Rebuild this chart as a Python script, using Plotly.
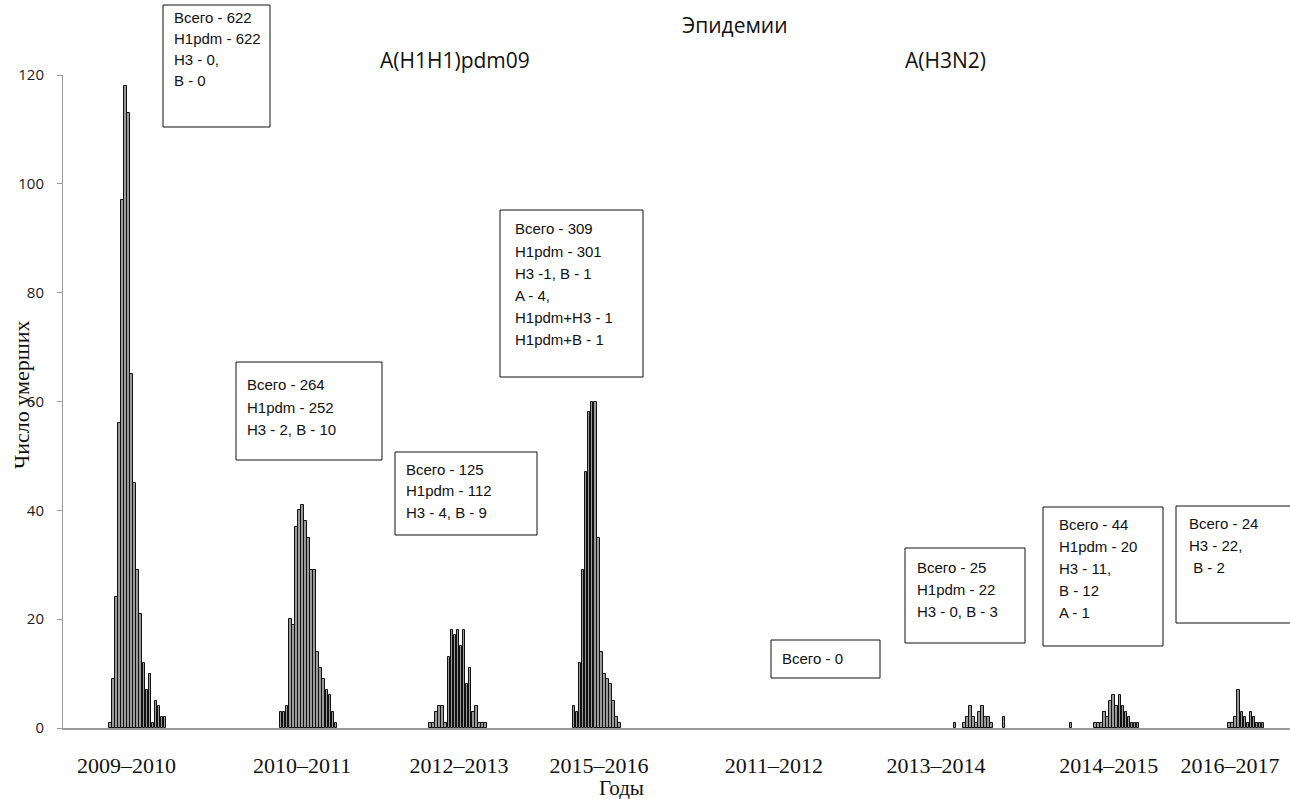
import plotly.graph_objects as go

# Influenza seasons shown on the time axis (label, centre position in weeks)
season_labels = ["2009–2010", "2010–2011", "2012–2013", "2015–2016",
                 "2011–2012", "2013–2014", "2014–2015", "2016–2017"]
season_label_pos = [20.8, 78.4, 129.8, 175.7, 233.1, 286.2, 342.9, 382.6]

# Weekly numbers of deaths per season (week offset where the series starts)
season_start_week = [15, 71, 120, 167, None, 292, 330, 382]
weekly_deaths = [
    [1, 9, 24, 56, 97, 118, 113, 65, 45, 29, 21, 12, 7, 10, 1, 5, 4, 2, 2],
    [3, 3, 4, 20, 19, 37, 40, 41, 38, 35, 29, 29, 14, 11, 9, 7, 6, 3, 1],
    [1, 1, 3, 4, 4, 1, 13, 18, 17, 18, 15, 18, 8, 11, 3, 4, 1, 1, 1],
    [4, 3, 12, 29, 47, 58, 60, 60, 35, 14, 10, 9, 8, 5, 2, 1],
    [],
    [1, 0, 0, 1, 2, 4, 2, 1, 3, 4, 2, 2, 1, 0, 0, 0, 2],
    [1, 0, 0, 0, 0, 0, 0, 0, 1, 1, 1, 3, 2, 5, 6, 4, 6, 4, 3, 2, 1, 1, 1],
    [1, 1, 2, 7, 3, 2, 1, 3, 2, 1, 1, 1],
]

# Laboratory summary for each season
season_notes = [
    ["Всего - 622", "H1pdm - 622", "H3 - 0,", "B - 0"],
    ["Всего - 264", "H1pdm - 252", "H3 - 2, B - 10"],
    ["Всего - 125", "H1pdm - 112", "H3 - 4, B - 9"],
    ["Всего - 309", "H1pdm - 301", "H3 -1, B - 1", "A - 4,", "H1pdm+H3 - 1", "H1pdm+B - 1"],
    ["Всего - 0"],
    ["Всего - 25", "H1pdm - 22", "H3 - 0, B - 3"],
    ["Всего - 44", "H1pdm - 20", "H3 - 11,", "B - 12", "A - 1"],
    ["Всего - 24", "H3 - 22,", " B - 2"],
]

# Figure geometry (pixels)
W, H = 1290, 799
ML, MR, MT, MB = 63, 0, 75, 71
PW, PH = W - ML - MR, H - MT - MB
PX_PER_WEEK = 3.05

SANS = "Liberation Sans, Arial, sans-serif"
HEAD = "Open Sans, Liberation Sans, sans-serif"
SERIF = "Liberation Serif, Times New Roman, serif"

xs, ys = [], []
for start, vals in zip(season_start_week, weekly_deaths):
    if start is None:
        continue
    for i, v in enumerate(vals):
        if v > 0:
            xs.append(start + i + 0.5)
            ys.append(v)

fig = go.Figure(go.Bar(
    x=xs, y=ys, width=0.85,
    marker=dict(color="#9a9a9a", line=dict(color="#111111", width=1)),
    hoverinfo="x+y",
))


def px_to_paper_x(px):
    return (px - ML) / PW


def px_to_paper_y(py):
    return (H - MB - py) / PH


# Note boxes: (left, top, right, bottom, text-left, first-line centre, line step) in pixels
box_geom = [
    (163, 5, 270, 127, 172, 17, 21),
    (236, 362, 382, 460, 245, 384, 23),
    (395, 452, 537, 535, 404, 469, 21.5),
    (500, 210, 643, 377, 513, 229, 22),
    (771, 640, 880, 678, 780, 658, 22),
    (905, 548, 1025, 643, 915, 567, 22),
    (1043, 507, 1163, 646, 1057, 524, 22),
    (1176, 506, 1300, 623, 1187, 523, 22),
]

shapes, annotations = [], []
for notes, (l, t, r, b, tx, ty, step) in zip(season_notes, box_geom):
    shapes.append(dict(
        type="rect", xref="paper", yref="paper",
        x0=px_to_paper_x(l), x1=px_to_paper_x(r),
        y0=px_to_paper_y(b), y1=px_to_paper_y(t),
        line=dict(color="#111111", width=1), fillcolor="white", layer="above",
    ))
    for k, line in enumerate(notes):
        annotations.append(dict(
            xref="paper", yref="paper",
            x=px_to_paper_x(tx), y=px_to_paper_y(ty + k * step),
            xanchor="left", yanchor="middle", showarrow=False,
            text=line.replace(" ", "&nbsp;") if line.startswith(" ") else line,
            font=dict(family=SANS, size=15, color="#111111"),
        ))

# Headings
for text, cx, cy, size in [("Эпидемии", 735, 25, 21),
                           ("A(H1H1)pdm09", 455, 60, 21),
                           ("A(H3N2)", 945, 60, 21)]:
    annotations.append(dict(
        xref="paper", yref="paper", x=px_to_paper_x(cx), y=px_to_paper_y(cy),
        xanchor="center", yanchor="middle", showarrow=False, text=text,
        font=dict(family=HEAD, size=size, color="#111111"),
    ))

# Axis titles
annotations.append(dict(
    xref="paper", yref="paper", x=px_to_paper_x(621), y=px_to_paper_y(788),
    xanchor="center", yanchor="middle", showarrow=False, text="Годы",
    font=dict(family=SERIF, size=21, color="#111111"),
))
annotations.append(dict(
    xref="paper", yref="paper", x=px_to_paper_x(21), y=px_to_paper_y(395),
    xanchor="center", yanchor="middle", showarrow=False, text="Число умерших",
    textangle=-90, font=dict(family=SERIF, size=22, color="#111111"),
))

fig.update_layout(
    width=W, height=H,
    margin=dict(l=ML, r=MR, t=MT, b=MB, pad=0),
    plot_bgcolor="white", paper_bgcolor="white",
    showlegend=False,
    bargap=0,
    shapes=shapes,
    annotations=annotations,
    xaxis=dict(
        range=[0, PW / PX_PER_WEEK],
        tickmode="array", tickvals=season_label_pos, ticktext=season_labels,
        ticks="", showgrid=False, zeroline=False,
        showline=True, linecolor="#9a9a9a", linewidth=1.5,
        tickfont=dict(family=SERIF, size=22, color="#111111"),
        ticklabelstandoff=17,
    ),
    yaxis=dict(
        range=[0, 120], tickmode="linear", tick0=0, dtick=20,
        ticks="outside", ticklen=5, tickcolor="#9a9a9a",
        showgrid=False, zeroline=False,
        showline=True, linecolor="#9a9a9a", linewidth=1,
        tickfont=dict(family=HEAD, size=15, color="#222222"),
        ticklabelstandoff=10,
    ),
)

fig.write_html("out.html")
